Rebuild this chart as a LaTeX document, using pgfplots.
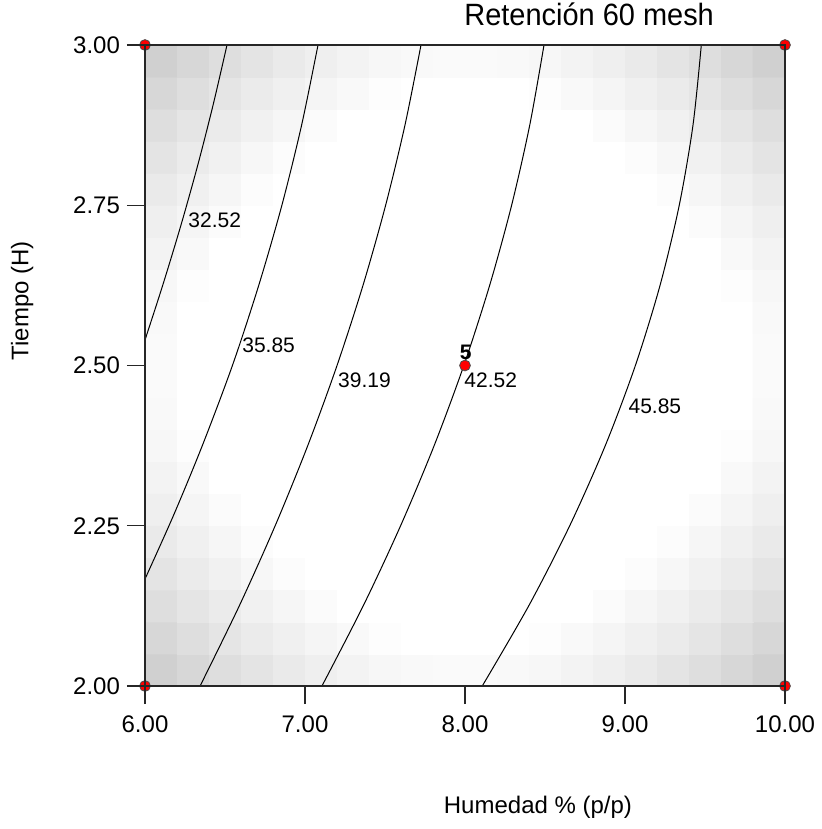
\documentclass[border=0pt]{standalone}
\usepackage{fontspec}
\setmainfont{Liberation Sans}
\usepackage{graphicx}
\usepackage{pgfplots}
\pgfplotsset{compat=1.18}

\begin{document}
\begin{tikzpicture}
\begin{axis}[
  name=ax,
  scale only axis,
  width=320pt, height=320.5pt,
  xmin=6, xmax=10, ymin=2, ymax=3,
  enlargelimits=false,
  clip=false,
  set layers,
  axis on top,
  axis line style={black!85, line width=0.6pt},
  tick pos=left,
  tick align=outside,
  major tick length=9pt,
  tick style={black!85, line width=0.6pt},
  xtick={6,7,8,9,10},
  ytick={2,2.25,2.5,2.75,3},
  /pgf/number format/assume math mode=true,
  /pgf/number format/.cd, fixed, fixed zerofill, precision=2, /pgfplots/.cd,
  tick label style={font=\fontsize{12}{14}\selectfont, black},
  xticklabel style={yshift=-2.5pt},
  colormap={bw}{gray(0cm)=(0); gray(1cm)=(1)},
  point meta min=0, point meta max=1,
  title={\fontsize{15.4}{18}\selectfont\scalebox{0.94}[1]{Retención 60 mesh}},
  title style={at={(axis description cs:0.694,1.011)}, anchor=base},
  xlabel={Humedad \% (p/p)},
  xlabel style={font=\fontsize{12}{14}\selectfont, at={(axis description cs:0.614,-0.19)}, anchor=center},
  ylabel={Tiempo (H)},
  ylabel style={font=\fontsize{12}{14}\selectfont, at={(axis description cs:-0.192,0.601)}, anchor=center},
]
% standard error shading, 20x20 cells
\addplot[matrix plot*, mesh/cols=20, point meta=explicit] coordinates {
(6.1,2.025)[0.81] (6.3,2.025)[0.838] (6.5,2.025)[0.865] (6.7,2.025)[0.889] (6.9,2.025)[0.912] (7.1,2.025)[0.932] (7.3,2.025)[0.948] (7.5,2.025)[0.961] (7.7,2.025)[0.97] (7.9,2.025)[0.975]
(8.1,2.025)[0.975] (8.3,2.025)[0.97] (8.5,2.025)[0.961] (8.7,2.025)[0.948] (8.9,2.025)[0.932] (9.1,2.025)[0.912] (9.3,2.025)[0.889] (9.5,2.025)[0.865] (9.7,2.025)[0.838] (9.9,2.025)[0.81]
(6.1,2.075)[0.838] (6.3,2.075)[0.865] (6.5,2.075)[0.891] (6.7,2.075)[0.915] (6.9,2.075)[0.936] (7.1,2.075)[0.955] (7.3,2.075)[0.971] (7.5,2.075)[0.984] (7.7,2.075)[0.993] (7.9,2.075)[0.997]
(8.1,2.075)[0.997] (8.3,2.075)[0.993] (8.5,2.075)[0.984] (8.7,2.075)[0.971] (8.9,2.075)[0.955] (9.1,2.075)[0.936] (9.3,2.075)[0.915] (9.5,2.075)[0.891] (9.7,2.075)[0.865] (9.9,2.075)[0.838]
(6.1,2.125)[0.865] (6.3,2.125)[0.891] (6.5,2.125)[0.916] (6.7,2.125)[0.939] (6.9,2.125)[0.959] (7.1,2.125)[0.978] (7.3,2.125)[0.994] (7.5,2.125)[1] (7.7,2.125)[1] (7.9,2.125)[1]
(8.1,2.125)[1] (8.3,2.125)[1] (8.5,2.125)[1] (8.7,2.125)[0.994] (8.9,2.125)[0.978] (9.1,2.125)[0.959] (9.3,2.125)[0.939] (9.5,2.125)[0.916] (9.7,2.125)[0.891] (9.9,2.125)[0.865]
(6.1,2.175)[0.889] (6.3,2.175)[0.915] (6.5,2.175)[0.939] (6.7,2.175)[0.961] (6.9,2.175)[0.981] (7.1,2.175)[0.999] (7.3,2.175)[1] (7.5,2.175)[1] (7.7,2.175)[1] (7.9,2.175)[1]
(8.1,2.175)[1] (8.3,2.175)[1] (8.5,2.175)[1] (8.7,2.175)[1] (8.9,2.175)[0.999] (9.1,2.175)[0.981] (9.3,2.175)[0.961] (9.5,2.175)[0.939] (9.7,2.175)[0.915] (9.9,2.175)[0.889]
(6.1,2.225)[0.912] (6.3,2.225)[0.936] (6.5,2.225)[0.959] (6.7,2.225)[0.981] (6.9,2.225)[1] (7.1,2.225)[1] (7.3,2.225)[1] (7.5,2.225)[1] (7.7,2.225)[1] (7.9,2.225)[1]
(8.1,2.225)[1] (8.3,2.225)[1] (8.5,2.225)[1] (8.7,2.225)[1] (8.9,2.225)[1] (9.1,2.225)[1] (9.3,2.225)[0.981] (9.5,2.225)[0.959] (9.7,2.225)[0.936] (9.9,2.225)[0.912]
(6.1,2.275)[0.932] (6.3,2.275)[0.955] (6.5,2.275)[0.978] (6.7,2.275)[0.999] (6.9,2.275)[1] (7.1,2.275)[1] (7.3,2.275)[1] (7.5,2.275)[1] (7.7,2.275)[1] (7.9,2.275)[1]
(8.1,2.275)[1] (8.3,2.275)[1] (8.5,2.275)[1] (8.7,2.275)[1] (8.9,2.275)[1] (9.1,2.275)[1] (9.3,2.275)[0.999] (9.5,2.275)[0.978] (9.7,2.275)[0.955] (9.9,2.275)[0.932]
(6.1,2.325)[0.948] (6.3,2.325)[0.971] (6.5,2.325)[0.994] (6.7,2.325)[1] (6.9,2.325)[1] (7.1,2.325)[1] (7.3,2.325)[1] (7.5,2.325)[1] (7.7,2.325)[1] (7.9,2.325)[1]
(8.1,2.325)[1] (8.3,2.325)[1] (8.5,2.325)[1] (8.7,2.325)[1] (8.9,2.325)[1] (9.1,2.325)[1] (9.3,2.325)[1] (9.5,2.325)[0.994] (9.7,2.325)[0.971] (9.9,2.325)[0.948]
(6.1,2.375)[0.961] (6.3,2.375)[0.984] (6.5,2.375)[1] (6.7,2.375)[1] (6.9,2.375)[1] (7.1,2.375)[1] (7.3,2.375)[1] (7.5,2.375)[1] (7.7,2.375)[1] (7.9,2.375)[1]
(8.1,2.375)[1] (8.3,2.375)[1] (8.5,2.375)[1] (8.7,2.375)[1] (8.9,2.375)[1] (9.1,2.375)[1] (9.3,2.375)[1] (9.5,2.375)[1] (9.7,2.375)[0.984] (9.9,2.375)[0.961]
(6.1,2.425)[0.97] (6.3,2.425)[0.993] (6.5,2.425)[1] (6.7,2.425)[1] (6.9,2.425)[1] (7.1,2.425)[1] (7.3,2.425)[1] (7.5,2.425)[1] (7.7,2.425)[1] (7.9,2.425)[1]
(8.1,2.425)[1] (8.3,2.425)[1] (8.5,2.425)[1] (8.7,2.425)[1] (8.9,2.425)[1] (9.1,2.425)[1] (9.3,2.425)[1] (9.5,2.425)[1] (9.7,2.425)[0.993] (9.9,2.425)[0.97]
(6.1,2.475)[0.975] (6.3,2.475)[0.997] (6.5,2.475)[1] (6.7,2.475)[1] (6.9,2.475)[1] (7.1,2.475)[1] (7.3,2.475)[1] (7.5,2.475)[1] (7.7,2.475)[1] (7.9,2.475)[1]
(8.1,2.475)[1] (8.3,2.475)[1] (8.5,2.475)[1] (8.7,2.475)[1] (8.9,2.475)[1] (9.1,2.475)[1] (9.3,2.475)[1] (9.5,2.475)[1] (9.7,2.475)[0.997] (9.9,2.475)[0.975]
(6.1,2.525)[0.975] (6.3,2.525)[0.997] (6.5,2.525)[1] (6.7,2.525)[1] (6.9,2.525)[1] (7.1,2.525)[1] (7.3,2.525)[1] (7.5,2.525)[1] (7.7,2.525)[1] (7.9,2.525)[1]
(8.1,2.525)[1] (8.3,2.525)[1] (8.5,2.525)[1] (8.7,2.525)[1] (8.9,2.525)[1] (9.1,2.525)[1] (9.3,2.525)[1] (9.5,2.525)[1] (9.7,2.525)[0.997] (9.9,2.525)[0.975]
(6.1,2.575)[0.97] (6.3,2.575)[0.993] (6.5,2.575)[1] (6.7,2.575)[1] (6.9,2.575)[1] (7.1,2.575)[1] (7.3,2.575)[1] (7.5,2.575)[1] (7.7,2.575)[1] (7.9,2.575)[1]
(8.1,2.575)[1] (8.3,2.575)[1] (8.5,2.575)[1] (8.7,2.575)[1] (8.9,2.575)[1] (9.1,2.575)[1] (9.3,2.575)[1] (9.5,2.575)[1] (9.7,2.575)[0.993] (9.9,2.575)[0.97]
(6.1,2.625)[0.961] (6.3,2.625)[0.984] (6.5,2.625)[1] (6.7,2.625)[1] (6.9,2.625)[1] (7.1,2.625)[1] (7.3,2.625)[1] (7.5,2.625)[1] (7.7,2.625)[1] (7.9,2.625)[1]
(8.1,2.625)[1] (8.3,2.625)[1] (8.5,2.625)[1] (8.7,2.625)[1] (8.9,2.625)[1] (9.1,2.625)[1] (9.3,2.625)[1] (9.5,2.625)[1] (9.7,2.625)[0.984] (9.9,2.625)[0.961]
(6.1,2.675)[0.948] (6.3,2.675)[0.971] (6.5,2.675)[0.994] (6.7,2.675)[1] (6.9,2.675)[1] (7.1,2.675)[1] (7.3,2.675)[1] (7.5,2.675)[1] (7.7,2.675)[1] (7.9,2.675)[1]
(8.1,2.675)[1] (8.3,2.675)[1] (8.5,2.675)[1] (8.7,2.675)[1] (8.9,2.675)[1] (9.1,2.675)[1] (9.3,2.675)[1] (9.5,2.675)[0.994] (9.7,2.675)[0.971] (9.9,2.675)[0.948]
(6.1,2.725)[0.932] (6.3,2.725)[0.955] (6.5,2.725)[0.978] (6.7,2.725)[0.999] (6.9,2.725)[1] (7.1,2.725)[1] (7.3,2.725)[1] (7.5,2.725)[1] (7.7,2.725)[1] (7.9,2.725)[1]
(8.1,2.725)[1] (8.3,2.725)[1] (8.5,2.725)[1] (8.7,2.725)[1] (8.9,2.725)[1] (9.1,2.725)[1] (9.3,2.725)[0.999] (9.5,2.725)[0.978] (9.7,2.725)[0.955] (9.9,2.725)[0.932]
(6.1,2.775)[0.912] (6.3,2.775)[0.936] (6.5,2.775)[0.959] (6.7,2.775)[0.981] (6.9,2.775)[1] (7.1,2.775)[1] (7.3,2.775)[1] (7.5,2.775)[1] (7.7,2.775)[1] (7.9,2.775)[1]
(8.1,2.775)[1] (8.3,2.775)[1] (8.5,2.775)[1] (8.7,2.775)[1] (8.9,2.775)[1] (9.1,2.775)[1] (9.3,2.775)[0.981] (9.5,2.775)[0.959] (9.7,2.775)[0.936] (9.9,2.775)[0.912]
(6.1,2.825)[0.889] (6.3,2.825)[0.915] (6.5,2.825)[0.939] (6.7,2.825)[0.961] (6.9,2.825)[0.981] (7.1,2.825)[0.999] (7.3,2.825)[1] (7.5,2.825)[1] (7.7,2.825)[1] (7.9,2.825)[1]
(8.1,2.825)[1] (8.3,2.825)[1] (8.5,2.825)[1] (8.7,2.825)[1] (8.9,2.825)[0.999] (9.1,2.825)[0.981] (9.3,2.825)[0.961] (9.5,2.825)[0.939] (9.7,2.825)[0.915] (9.9,2.825)[0.889]
(6.1,2.875)[0.865] (6.3,2.875)[0.891] (6.5,2.875)[0.916] (6.7,2.875)[0.939] (6.9,2.875)[0.959] (7.1,2.875)[0.978] (7.3,2.875)[0.994] (7.5,2.875)[1] (7.7,2.875)[1] (7.9,2.875)[1]
(8.1,2.875)[1] (8.3,2.875)[1] (8.5,2.875)[1] (8.7,2.875)[0.994] (8.9,2.875)[0.978] (9.1,2.875)[0.959] (9.3,2.875)[0.939] (9.5,2.875)[0.916] (9.7,2.875)[0.891] (9.9,2.875)[0.865]
(6.1,2.925)[0.838] (6.3,2.925)[0.865] (6.5,2.925)[0.891] (6.7,2.925)[0.915] (6.9,2.925)[0.936] (7.1,2.925)[0.955] (7.3,2.925)[0.971] (7.5,2.925)[0.984] (7.7,2.925)[0.993] (7.9,2.925)[0.997]
(8.1,2.925)[0.997] (8.3,2.925)[0.993] (8.5,2.925)[0.984] (8.7,2.925)[0.971] (8.9,2.925)[0.955] (9.1,2.925)[0.936] (9.3,2.925)[0.915] (9.5,2.925)[0.891] (9.7,2.925)[0.865] (9.9,2.925)[0.838]
(6.1,2.975)[0.81] (6.3,2.975)[0.838] (6.5,2.975)[0.865] (6.7,2.975)[0.889] (6.9,2.975)[0.912] (7.1,2.975)[0.932] (7.3,2.975)[0.948] (7.5,2.975)[0.961] (7.7,2.975)[0.97] (7.9,2.975)[0.975]
(8.1,2.975)[0.975] (8.3,2.975)[0.97] (8.5,2.975)[0.961] (8.7,2.975)[0.948] (8.9,2.975)[0.932] (9.1,2.975)[0.912] (9.3,2.975)[0.889] (9.5,2.975)[0.865] (9.7,2.975)[0.838] (9.9,2.975)[0.81]
};

% contour lines
\addplot[black, line width=0.5pt, smooth] coordinates {
  (6.5125,3.0) (6.4256,2.9064) (6.33,2.8128) (6.225,2.7192) (6.1113,2.6256) (6.0,2.5398)
};
\addplot[black, line width=0.5pt, smooth] coordinates {
  (7.0813,3.0) (6.979,2.8752) (6.856,2.7504) (6.7116,2.6256) (6.5475,2.5008) (6.3598,2.376) (6.1793,2.2668) (6.0,2.1669)
};
\addplot[black, line width=0.5pt, smooth] coordinates {
  (7.725,3.0) (7.625,2.8752) (7.5044,2.7504) (7.3632,2.6256) (7.2013,2.5008) (7.0188,2.376) (6.8156,2.2512) (6.5919,2.1264) (6.3444,2.0)
};
\addplot[black, line width=0.5pt, smooth] coordinates {
  (8.4938,3.0) (8.4048,2.8752) (8.2918,2.7504) (8.1548,2.6256) (7.9938,2.5008) (7.8088,2.376) (7.5996,2.2512) (7.3666,2.1264) (7.106,2.0)
};
\addplot[black, line width=0.5pt, smooth] coordinates {
  (9.4769,3.0) (9.4251,2.8752) (9.3394,2.7504) (9.2197,2.6256) (9.066,2.5008) (8.8784,2.376) (8.6568,2.2512) (8.4013,2.1264) (8.1079,2.0)
};

\begin{scope}[every node/.style={font=\fontsize{10.5}{12}\selectfont, inner sep=0pt, anchor=west}]
  \node at (axis cs:6.269,2.727) {32.52};
  \node at (axis cs:6.606,2.531) {35.85};
  \node at (axis cs:7.205,2.477) {39.19};
  \node at (axis cs:7.994,2.477) {42.52};
  \node at (axis cs:9.02,2.436) {45.85};
  \node[anchor=center, font=\fontsize{10.5}{12}\selectfont\bfseries] at (axis cs:8.004,2.52) {5};
\end{scope}

% design points
\addplot[only marks, mark=*, mark size=2.7pt, mark options={fill=red, draw=black!70, line width=0.4pt}, on layer=axis foreground] coordinates {
  (6,2) (6,3) (10,2) (10,3) (8,2.5)
};
\end{axis}
\pgfresetboundingbox
\path[use as bounding box] (-72.5pt,-71.5pt) rectangle (338.5pt,343pt);
\end{tikzpicture}
\end{document}
